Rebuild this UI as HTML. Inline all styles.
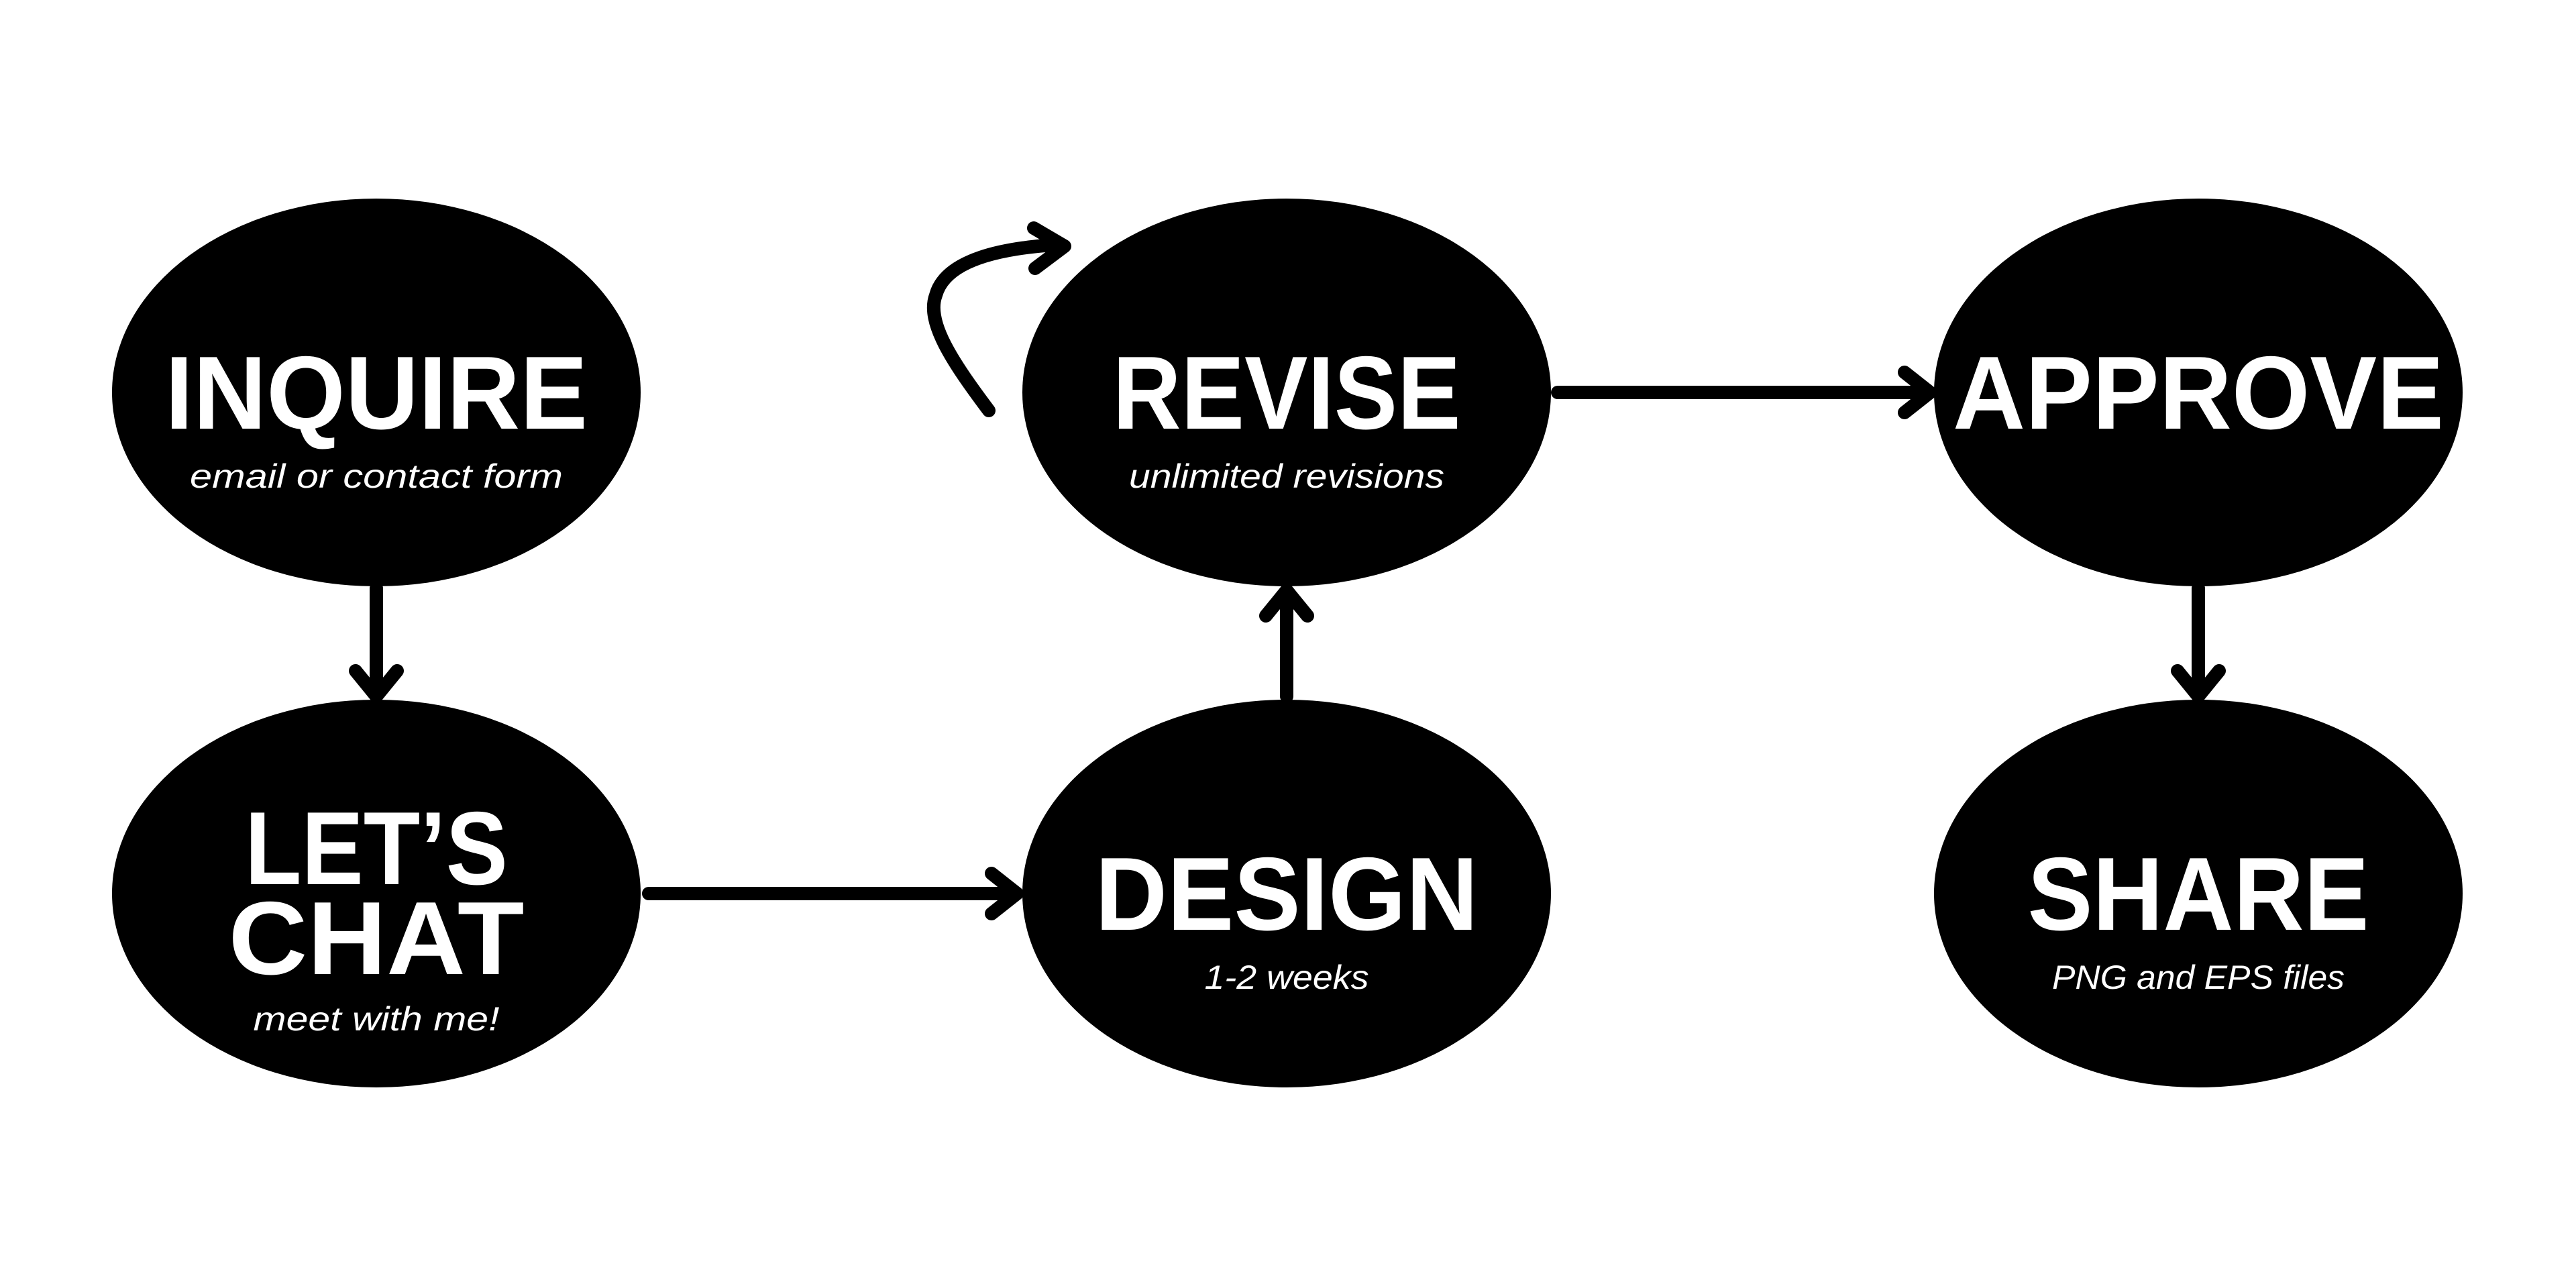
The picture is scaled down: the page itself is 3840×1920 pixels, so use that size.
<!DOCTYPE html>
<html><head><meta charset="utf-8"><style>html,body{margin:0;padding:0;background:#fff}svg{display:block}</style></head>
<body>
<svg width="3840" height="1920" viewBox="0 0 3840 1920" xmlns="http://www.w3.org/2000/svg">
<rect width="3840" height="1920" fill="#fff"/>
<g fill="#000">
<ellipse cx="561" cy="585" rx="394" ry="289"/>
<ellipse cx="561" cy="1332" rx="394" ry="289"/>
<ellipse cx="1918" cy="585" rx="394" ry="289"/>
<ellipse cx="1918" cy="1332" rx="394" ry="289"/>
<ellipse cx="3277" cy="585" rx="394" ry="289"/>
<ellipse cx="3277" cy="1332" rx="394" ry="289"/>
</g>
<g stroke="#000" stroke-width="20" stroke-linecap="round" stroke-linejoin="round" fill="none">
<path d="M561 877 V1038 M530 1000 L561 1038 L592 1000"/>
<path d="M967 1332 H1516 M1478 1302 L1516 1332 L1478 1362"/>
<path d="M1918 1038 V880 M1887 918 L1918 880 L1949 918"/>
<path d="M2322 585 H2877 M2839 555 L2877 585 L2839 615"/>
<path d="M3277 877 V1038 M3246 1000 L3277 1038 L3308 1000"/>
<path d="M1474 612 C1420 540 1380 480 1395 440 C1410 385 1500 370 1570 365"/>
<path d="M1541 340 L1587 367 L1543 400"/>
</g>
<g fill="#fff" font-family="Liberation Sans, sans-serif" text-anchor="middle">
<g font-weight="bold" font-size="155">
<text x="561" y="639" textLength="630" lengthAdjust="spacingAndGlyphs">INQUIRE</text>
<text x="1918" y="639" textLength="519" lengthAdjust="spacingAndGlyphs">REVISE</text>
<text x="3277" y="639" textLength="732" lengthAdjust="spacingAndGlyphs">APPROVE</text>
<text x="561" y="1318" textLength="392" lengthAdjust="spacingAndGlyphs">LET’S</text>
<text x="561" y="1452" textLength="441" lengthAdjust="spacingAndGlyphs">CHAT</text>
<text x="1918" y="1386" textLength="571" lengthAdjust="spacingAndGlyphs">DESIGN</text>
<text x="3277" y="1386" textLength="509" lengthAdjust="spacingAndGlyphs">SHARE</text>
</g>
<g font-style="italic" font-size="50">
<text x="561" y="727" textLength="556" lengthAdjust="spacingAndGlyphs">email or contact form</text>
<text x="1918" y="727" textLength="470" lengthAdjust="spacingAndGlyphs">unlimited revisions</text>
<text x="561" y="1536" textLength="367" lengthAdjust="spacingAndGlyphs">meet with me!</text>
<text x="1918" y="1474" textLength="245" lengthAdjust="spacingAndGlyphs">1-2 weeks</text>
<text x="3277" y="1474" textLength="436" lengthAdjust="spacingAndGlyphs">PNG and EPS files</text>
</g>
</g>
</svg>
</body></html>
